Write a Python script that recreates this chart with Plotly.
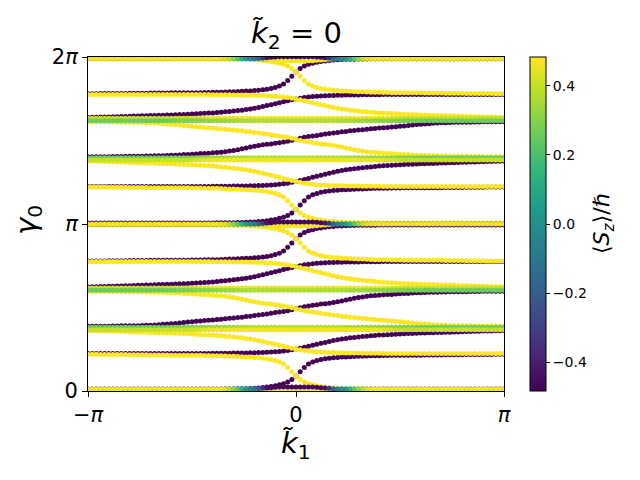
import numpy as np
import plotly.graph_objects as go

PI = np.pi
N_K = 101
k1 = np.linspace(-PI, PI, N_K)          # k-point grid  (j = -50 ... 50)

# spin expectation used for the pure bands
S_UP, S_DN = 0.48, -0.48

# Wannier-centre levels (gamma0 / pi) at the zone edge for the five upper gaps
gap_top    = [1.99, 1.775, 1.612, 1.377, 1.222]
gap_bottom = [1.78, 1.638, 1.403, 1.225, 1.006]

# fraction of the way the spin-up band has moved from its top level to its bottom level
prof_g1 = [0] * 30 + [
    0, 0.005, 0.005, 0.01, 0.01, 0.01, 0.015, 0.015, 0.02, 0.025,
    0.03, 0.04, 0.05, 0.065, 0.08, 0.1, 0.13, 0.16, 0.21, 0.28,
    0.38,
    0.5, 0.62, 0.72, 0.78, 0.82, 0.85, 0.87, 0.885, 0.9, 0.91,
    0.92, 0.925, 0.93, 0.935, 0.94, 0.945, 0.95, 0.955, 0.96, 0.96,
    0.965, 0.965, 0.97, 0.97, 0.97, 0.975, 0.975, 0.975, 0.975, 0.975,
    0.98, 0.98, 0.98, 0.98, 0.98, 0.985, 0.985, 0.985, 0.985, 0.985,
    0.99, 0.99, 0.99, 0.99, 0.99, 0.995, 0.995, 1, 1, 1]

prof_g2 = [0] * 30 + [
    0.005, 0.005, 0.01, 0.01, 0.01, 0.015, 0.015, 0.02, 0.02, 0.025,
    0.03, 0.035, 0.04, 0.05, 0.06, 0.07, 0.085, 0.105, 0.13, 0.16,
    0.19,
    0.23, 0.27, 0.315, 0.36, 0.4, 0.44, 0.48, 0.52, 0.56, 0.6,
    0.63, 0.655, 0.68, 0.7, 0.72, 0.74, 0.755, 0.77, 0.785, 0.8,
    0.81, 0.82, 0.83, 0.84, 0.85, 0.86, 0.87, 0.875, 0.88, 0.89,
    0.895, 0.9, 0.905, 0.91, 0.92, 0.925, 0.93, 0.935, 0.94, 0.95,
    0.955, 0.96, 0.965, 0.97, 0.975, 0.98, 0.985, 0.99, 0.995, 1]

prof_g3 = [
    0, 0, 0, 0, 0, 0, 0.005, 0.005, 0.01, 0.01,
    0.01, 0.015, 0.015, 0.02, 0.025, 0.03, 0.035, 0.045, 0.055, 0.06,
    0.07, 0.08, 0.095, 0.105, 0.12, 0.13, 0.14, 0.15, 0.16, 0.17,
    0.18, 0.19, 0.2, 0.21, 0.225, 0.235, 0.25, 0.26, 0.275, 0.285,
    0.31, 0.32, 0.335, 0.35, 0.37, 0.39, 0.405, 0.42, 0.445, 0.47,
    0.5,
    0.53, 0.56, 0.58, 0.6, 0.615, 0.635, 0.645, 0.66, 0.68, 0.7,
    0.725, 0.75, 0.775, 0.8, 0.82, 0.84, 0.855, 0.87, 0.88, 0.89,
    0.9, 0.905, 0.91, 0.92, 0.93, 0.935, 0.94, 0.95, 0.955, 0.96,
    0.965, 0.97, 0.97, 0.975, 0.98, 0.98, 0.985, 0.985, 0.99, 0.99,
    0.99, 0.995, 0.995, 0.995, 1, 1, 1, 1, 1, 1]

prof_g4 = [
    0, 0.005, 0.01, 0.015, 0.02, 0.025, 0.03, 0.035, 0.04, 0.045,
    0.05, 0.06, 0.065, 0.07, 0.075, 0.08, 0.09, 0.095, 0.1, 0.105,
    0.11, 0.12, 0.125, 0.13, 0.14, 0.15, 0.16, 0.17, 0.18, 0.19,
    0.2, 0.215, 0.23, 0.245, 0.26, 0.28, 0.3, 0.32, 0.345, 0.37,
    0.4, 0.44, 0.48, 0.52, 0.56, 0.6, 0.64, 0.685, 0.73, 0.77,
    0.81,
    0.84, 0.87, 0.895, 0.915, 0.93, 0.94, 0.95, 0.96, 0.965, 0.97,
    0.975, 0.98, 0.98, 0.985, 0.985, 0.99, 0.99, 0.99, 0.995, 0.995] + [1] * 30

prof_g5 = [
    0, 0, 0, 0.005, 0.005, 0.01, 0.01, 0.01, 0.01, 0.01,
    0.015, 0.015, 0.015, 0.015, 0.015, 0.02, 0.02, 0.02, 0.02, 0.02,
    0.025, 0.025, 0.025, 0.025, 0.025, 0.03, 0.03, 0.03, 0.035, 0.035,
    0.04, 0.04, 0.045, 0.05, 0.055, 0.06, 0.065, 0.07, 0.075, 0.08,
    0.09, 0.1, 0.115, 0.13, 0.15, 0.18, 0.22, 0.28, 0.38, 0.5,
    0.62,
    0.72, 0.79, 0.84, 0.87, 0.9, 0.92, 0.935, 0.95, 0.96, 0.97,
    0.975, 0.98, 0.985, 0.985, 0.99, 0.99, 0.99, 0.995, 0.995, 1] + [1] * 30

# nearly flat bands inside the thick levels (gamma0 / pi) and their spin colour
extra_levels = [1.633, 1.619, 1.397, 1.383, 0.617, 0.603, 0.381, 0.367]
extra_kind = ["y", "g", "g", "y", "y", "g", "g", "y"]
sz_extra_green = ([0.26] * 20 +
                  [0.27, 0.27, 0.28, 0.28, 0.29, 0.29, 0.3, 0.3, 0.31, 0.31,
                   0.32, 0.32, 0.33, 0.33, 0.34, 0.34, 0.35, 0.35, 0.36, 0.36] +
                  [0.37] * 21 +
                  [0.36, 0.36, 0.35, 0.35, 0.34, 0.34, 0.33, 0.33, 0.32, 0.32,
                   0.31, 0.31, 0.3, 0.3, 0.29, 0.29, 0.28, 0.28, 0.27, 0.27] +
                  [0.26] * 20)
sz_extra_yellow = ([0.4] * 25 + [0.41, 0.42, 0.43, 0.44, 0.45] + [0.46] * 41 +
                   [0.45, 0.44, 0.43, 0.42, 0.41] + [0.4] * 25)

# hybridising pairs at gamma0 = 0, pi, 2pi: spin colour and splitting (gamma0 / pi)
hybrid_levels = [1.99, 1.0, 0.012]
sz_hybrid = ([0.46] * 32 +
             [0.45, 0.43, 0.39, 0.32, 0.23, 0.13, 0.04, -0.01, -0.08, -0.2, -0.34, -0.43] +
             [-0.47] * 13 +
             [-0.43, -0.34, -0.2, -0.08, -0.01, 0.04, 0.13, 0.23, 0.32, 0.39, 0.43, 0.45] +
             [0.46] * 32)
split_hybrid = [0] * 41 + [0.002, 0.004, 0.006, 0.008, 0.01] + [0.012] * 9 + \
               [0.01, 0.008, 0.006, 0.004, 0.002] + [0] * 41

# ---------------------------------------------------------------- build bands
xs, ys, cs = [], [], []


def add(g, c):
    xs.append(k1)
    ys.append(np.asarray(g, float) * PI)
    cs.append(np.asarray(c, float))


up_bands, dn_bands = [], []
for T, B, f in zip(gap_top, gap_bottom, [prof_g1, prof_g2, prof_g3, prof_g4, prof_g5]):
    up = T - (T - B) * np.asarray(f, float)
    up_bands.append(up)
    dn_bands.append(up[::-1])
low_up = [2 - d for d in dn_bands]
low_dn = [2 - u for u in up_bands]

for d in dn_bands + low_dn:
    add(d, np.full(N_K, S_DN))
for u in up_bands + low_up:
    add(u, np.full(N_K, S_UP))
for lev, kind in zip(extra_levels, extra_kind):
    add(np.full(N_K, lev), sz_extra_yellow if kind == "y" else sz_extra_green)
for lev in hybrid_levels:
    add(lev - np.asarray(split_hybrid), -np.asarray(sz_hybrid))
    add(lev + np.asarray(split_hybrid), np.asarray(sz_hybrid))

X = np.concatenate(xs)
Y = np.concatenate(ys)
C = np.concatenate(cs)

FONT = "DejaVu Sans"

fig = go.Figure(go.Scatter(
    x=X, y=Y, mode="markers",
    marker=dict(size=5, color=C, coloraxis="coloraxis", line=dict(width=0)),
    cliponaxis=True, hoverinfo="skip", showlegend=False))

fig.update_layout(
    width=640, height=480,
    margin=dict(l=88, r=136, t=57, b=89),
    paper_bgcolor="white", plot_bgcolor="white",
    font=dict(family=FONT, color="black"),
    coloraxis=dict(
        colorscale="Viridis", cmin=-0.484, cmax=0.484,
        colorbar=dict(
            x=1.0625, xanchor="left", xpad=0, ypad=0,
            y=0.5, yanchor="middle", len=1, lenmode="fraction",
            thickness=16, thicknessmode="pixels",
            outlinewidth=1, outlinecolor="black",
            ticks="outside", ticklen=4, tickwidth=1, tickcolor="black",
            tickvals=[-0.4, -0.2, 0.0, 0.2, 0.4],
            ticktext=["\u22120.4", "\u22120.2", "0.0", "0.2", "0.4"],
            tickfont=dict(family=FONT, size=14, color="black"),
        ),
    ),
    xaxis=dict(
        range=[-PI, PI], showgrid=False, zeroline=False,
        showline=True, linecolor="black", linewidth=1, mirror=True,
        ticks="outside", ticklen=5, tickwidth=1, tickcolor="black",
        tickvals=[-PI, 0, PI], ticktext=["\u2212<i>\u03c0</i>", "0", "<i>\u03c0</i>"],
        tickfont=dict(family=FONT, size=21, color="black"),
    ),
    yaxis=dict(
        range=[0, 2 * PI], showgrid=False, zeroline=False,
        showline=True, linecolor="black", linewidth=1, mirror=True,
        ticks="outside", ticklen=5, tickwidth=1, tickcolor="black",
        tickvals=[0, PI, 2 * PI], ticktext=["0", "<i>\u03c0</i>", "2<i>\u03c0</i>"],
        tickfont=dict(family=FONT, size=21, color="black"),
    ),
    annotations=[
        dict(text="<i>k\u0303</i><sub>2</sub> = 0", xref="paper", yref="paper",
             x=0.5, y=1, xanchor="center", yanchor="bottom", yshift=1,
             showarrow=False, font=dict(family=FONT, size=29, color="black")),
        dict(text="<i>k\u0303</i><sub>1</sub>", xref="paper", yref="paper",
             x=0.5, y=0, xanchor="center", yanchor="top", yshift=-33,
             showarrow=False, font=dict(family=FONT, size=29, color="black")),
        dict(text="<i>\u03b3</i><sub>0</sub>", xref="paper", yref="paper",
             x=0, y=0.5, xanchor="center", yanchor="middle", xshift=-60, yshift=4,
             textangle=-90, showarrow=False,
             font=dict(family=FONT, size=29, color="black")),
        dict(text="\u27e8<i>S<sub>z</sub></i>\u27e9/\u210f", xref="paper", yref="paper",
             x=1, y=0.5, xanchor="center", yanchor="middle", xshift=515 - 416,
             textangle=-90, showarrow=False,
             font=dict(family=FONT, size=22, color="black")),
    ],
)

fig.write_html("out.html")
